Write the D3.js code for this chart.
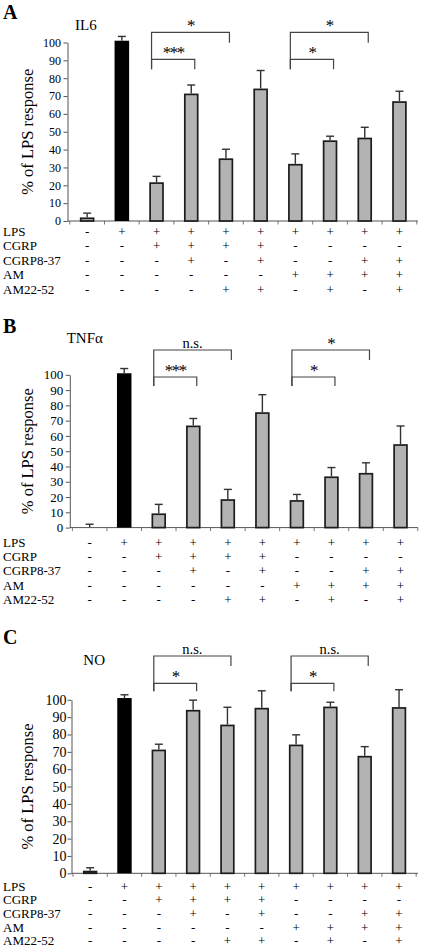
<!DOCTYPE html>
<html><head><meta charset="utf-8">
<script src="https://cdn.jsdelivr.net/npm/d3@7"></script>
<style>
body{margin:0;background:#fff}
svg{display:block}
text{font-family:"Liberation Serif","Times New Roman",serif;fill:#000}
</style>
</head><body>
<script>
// ---------- DATA ----------
const categories = ["ctrl","LPS","LPS+CGRP","LPS+CGRP+CGRP8-37","LPS+CGRP+AM22-52","LPS+CGRP+CGRP8-37+AM22-52",
  "LPS+AM","LPS+AM+AM22-52","LPS+AM+CGRP8-37","LPS+AM+CGRP8-37+AM22-52"];
const treatmentRows = ["LPS","CGRP","CGRP8-37","AM","AM22-52"];
const lpsSigns      = ["-","+","+","+","+","+","+","+","+","+"];
const cgrpSigns     = ["-","-","+","+","+","+","-","-","-","-"];
const cgrp837Signs  = ["-","-","-","+","-","+","-","-","+","+"];
const amSigns       = ["-","-","-","-","-","-","+","+","+","+"];
const am2252Signs   = ["-","-","-","-","+","+","-","+","-","+"];
const yTicks = [0,10,20,30,40,50,60,70,80,90,100];

const il6Values  = [2, 101, 21.7, 71.4, 35.1, 74.2, 32, 45.2, 46.7, 67.1];
const il6Errors  = [2.4, 2.4, 3.3, 4.8, 5.1, 10.1, 5.6, 2.3, 5.8, 5.6];
const tnfValues  = [0.3, 101, 9.3, 66.8, 18.6, 75.5, 18, 33.5, 35.8, 54.6];
const tnfErrors  = [1.9, 3.1, 5.9, 4.6, 6.4, 11.5, 3.7, 5.8, 6.6, 11.9];
const noValues   = [1.5, 101, 71.3, 94.2, 85.7, 95.4, 74.2, 96.1, 67.7, 95.8];
const noErrors   = [1.7, 1.9, 3.1, 5.6, 10, 9.8, 5.6, 2.5, 5.3, 10];

const il6Brackets = [{from:2,to:4,label:"*",level:0},{from:2,to:3,label:"***",level:1},
                     {from:6,to:8,label:"*",level:0},{from:6,to:7,label:"*",level:1}];
const tnfBrackets = [{from:2,to:4,label:"n.s.",level:0},{from:2,to:3,label:"***",level:1},
                     {from:6,to:8,label:"*",level:0},{from:6,to:7,label:"*",level:1}];
const noBrackets  = [{from:2,to:4,label:"n.s.",level:0},{from:2,to:3,label:"*",level:1},
                     {from:6,to:8,label:"n.s.",level:0},{from:6,to:7,label:"*",level:1}];

const signRows = [lpsSigns, cgrpSigns, cgrp837Signs, amSigns, am2252Signs];

// ---------- LAYOUT ----------
const svg = d3.select("body").append("svg").attr("width",421).attr("height",950);

const panels = [
  {letter:"A", title:"IL6", values:il6Values, errors:il6Errors, brackets:il6Brackets,
   x0:69.8, x1:416.8, axisX:67.5, y0:221, y100:42.5, tickFont:12, tickPad:2.5,
   letterPos:[3,19], titlePos:[75,29.5], bracketY:[32.3,59.3], legs:[10.4,10],
   tableY:236, tableStep:14.4},
  {letter:"B", title:"TNFα", values:tnfValues, errors:tnfErrors, brackets:tnfBrackets,
   x0:72.4, x1:417.8, axisX:69.8, y0:527.6, y100:374.8, tickFont:13, tickPad:2.5,
   letterPos:[3,333], titlePos:[66.7,343], bracketY:[350,377], legs:[10,9],
   tableY:547, tableStep:14.2},
  {letter:"C", title:"NO", values:noValues, errors:noErrors, brackets:noBrackets,
   x0:73, x1:416.2, axisX:71.5, y0:873.3, y100:699.8, tickFont:14, tickPad:1,
   letterPos:[3,644], titlePos:[83.3,665], bracketY:[656,683.3], legs:[10,8],
   tableY:890.5, tableStep:13.7}
];

const axisColor = "#555";

panels.forEach(p => {
  const g = svg.append("g");
  const x = d3.scaleBand().domain(categories).range([p.x0, p.x1]).paddingInner(0.58).paddingOuter(0.29);
  const y = d3.scaleLinear().domain([0,100]).range([p.y0, p.y100]);
  const cx = i => x(categories[i]) + x.bandwidth()/2;

  g.append("text").attr("x",p.letterPos[0]).attr("y",p.letterPos[1])
    .attr("font-size",20).attr("font-weight","bold").text(p.letter);
  g.append("text").attr("x",p.titlePos[0]).attr("y",p.titlePos[1])
    .attr("font-size",15).text(p.title);

  g.append("text").attr("transform",`translate(33,${(p.y0+p.y100)/2}) rotate(-90)`)
    .attr("text-anchor","middle").attr("font-size",16.5).text("% of LPS response");

  const ya = g.append("g").attr("transform",`translate(${p.axisX},0)`)
    .call(d3.axisLeft(y).tickValues(yTicks).tickSize(4).tickSizeOuter(0).tickPadding(p.tickPad));
  ya.select(".domain").attr("stroke",axisColor);
  ya.selectAll(".tick line").attr("stroke",axisColor);
  ya.selectAll(".tick text").attr("font-family",'"Liberation Serif",serif').attr("font-size",p.tickFont).attr("fill","#000");

  g.append("line").attr("x1",p.axisX).attr("x2",418).attr("y1",p.y0).attr("y2",p.y0)
    .attr("stroke",axisColor).attr("stroke-width",1);
  const bounds = categories.map(c => x(c) - x.step()*x.paddingInner()/2).concat([p.x1]);
  g.selectAll(".xt").data(bounds).enter().append("line")
    .attr("x1",d=>d).attr("x2",d=>d).attr("y1",p.y0).attr("y2",p.y0+3.5)
    .attr("stroke",axisColor).attr("stroke-width",0.8);

  const sw = 1.7;
  g.selectAll(".bar").data(p.values).enter().append("rect")
    .attr("x",(d,i)=>x(categories[i]) + (i===1?0:sw/2))
    .attr("width",(d,i)=> i===1 ? x.bandwidth() : x.bandwidth()-sw)
    .attr("y",(d,i)=> y(d) + (i===1?0:sw/2))
    .attr("height",(d,i)=> Math.max(0, p.y0 - y(d) - (i===1?0:sw/2)))
    .attr("fill",(d,i)=> i===1 ? "#000" : "#b3b3b3")
    .attr("stroke",(d,i)=> i===1 ? "none" : "#1c1c1c")
    .attr("stroke-width",sw);

  p.values.forEach((v,i) => {
    const top = y(v + p.errors[i]);
    g.append("line").attr("x1",cx(i)).attr("x2",cx(i)).attr("y1",y(v)).attr("y2",top)
      .attr("stroke","#333").attr("stroke-width",1.4);
    g.append("line").attr("x1",cx(i)-4).attr("x2",cx(i)+4).attr("y1",top).attr("y2",top)
      .attr("stroke","#333").attr("stroke-width",1.4);
  });

  const leftEnd = p.bracketY[1] + p.legs[1];
  p.brackets.forEach(b => {
    const xl = cx(b.from) - 5, xr = cx(b.to) + 3.5;
    const by = p.bracketY[b.level];
    g.append("path").attr("d",`M${xl},${leftEnd}V${by}H${xr}V${by + p.legs[b.level]}`)
      .attr("fill","none").attr("stroke","#444").attr("stroke-width",1.2);
    const isNs = b.label === "n.s.";
    g.append("text").attr("x",(xl+xr)/2).attr("y",isNs ? by - 2.5 : by - 1.5)
      .attr("text-anchor","middle").attr("font-size",isNs?14.5:17)
      .attr("letter-spacing",isNs?0:-1.5).attr("fill","#333").text(b.label);
  });

  treatmentRows.forEach((r,ri) => {
    const ty = p.tableY + ri*p.tableStep;
    g.append("text").attr("x",3).attr("y",ty).attr("font-size",13).text(r);
    signRows[ri].forEach((s,ci) => {
      g.append("text").attr("x",cx(ci)).attr("y",ty).attr("text-anchor","middle")
        .attr("font-size",13).attr("fill","#000").text(s);
    });
  });
});
</script>
</body></html>
